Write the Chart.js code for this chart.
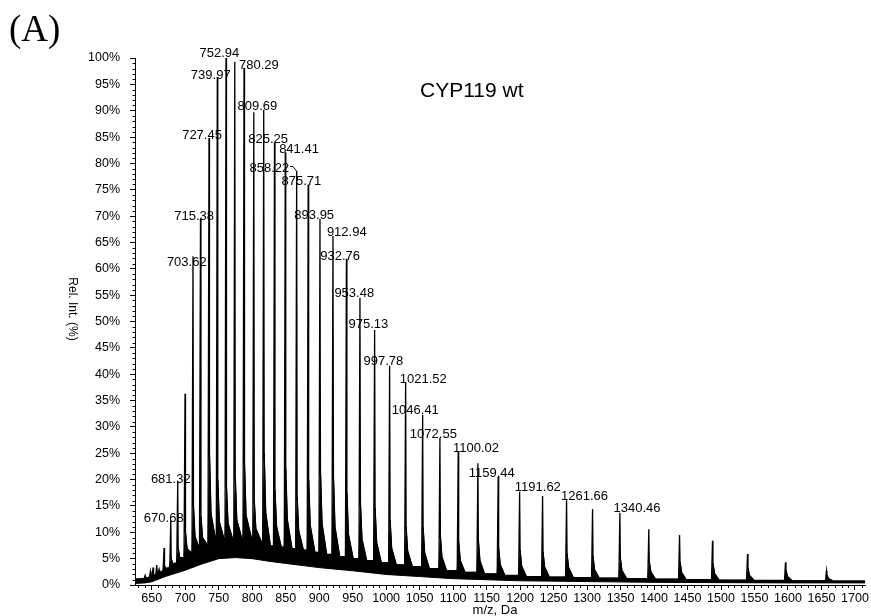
<!DOCTYPE html>
<html>
<head>
<meta charset="utf-8">
<script src="https://cdn.jsdelivr.net/npm/chart.js@4/dist/chart.umd.min.js"></script>
<style>
  html, body { margin: 0; padding: 0; background: #fff; }
  canvas { display: block; }
</style>
</head>
<body>
<canvas id="spectrum" width="871" height="616"></canvas>
<script>
// peak positions (m/z) and intensities (%)
const peakMz = [640, 648, 652, 657.5, 661, 668.4, 678.4, 688.8, 699.7, 711.6, 722.8, 735.5, 747.9, 760.9, 774.0,
  787.8, 802.4, 817.2, 833.3, 849.4, 866.4, 883.6, 901.2, 920.6, 940.7, 960.9, 982.8, 1005.2, 1029.1, 1054.5,
  1080.3, 1107.6, 1137.0, 1167.3, 1199.3, 1233.6, 1269.4, 1308.2, 1349.0, 1392.2, 1438.1, 1487.3, 1539.6, 1596.3, 1657.5];
const peakTop = [1.8, 2.6, 3.3, 3.8, 3.0, 7.0, 12.3, 19.6, 36.3, 62.4, 69.5, 84.8, 96.4, 100, 99.3,
  98.1, 89.7, 90.2, 83.9, 82.1, 78.5, 76.0, 69.5, 66.2, 61.9, 54.5, 48.4, 41.6, 38.4, 32.3,
  27.9, 25.3, 23.1, 20.6, 17.7, 16.9, 16.1, 14.4, 13.7, 10.6, 9.5, 8.4, 5.9, 4.3, 2.7];
// top of the noise band in the valley just before each peak
const peakFoot = [1.2, 1.5, 1.7, 2.0, 2.2, 2.8, 3.4, 4.2, 5.2, 6.0, 6.8, 7.4, 7.8, 8.0, 8.0,
  8.0, 7.8, 7.6, 7.4, 7.2, 6.9, 6.6, 6.2, 5.8, 5.4, 5.0, 4.6, 4.2, 3.8, 3.5,
  3.1, 2.7, 2.4, 2.1, 1.8, 1.6, 1.5, 1.4, 1.3, 1.2, 1.1, 1.0, 0.9, 0.85, 0.8];
// shoulder just right of each peak, and the decaying tail after it
const peakShoulder = [1.4, 1.8, 2.0, 2.4, 2.6, 3.6, 5.0, 7.0, 10, 15, 13, 25, 20, 18.6, 20.5,
  23, 16, 25, 18, 22, 16.7, 20, 21.8, 20.6, 17.5, 15.6, 14.6, 12.3, 11.1, 11.0,
  9.2, 8.2, 8.5, 7.0, 6.6, 6.2, 6.0, 5.4, 5.1, 4.4, 4.4, 4.1, 3.2, 2.8, 1.9];
const peakTail = [1.3, 1.6, 1.8, 2.1, 2.4, 3.1, 4.0, 5.2, 6.9, 9.2, 9.0, 13.5, 12.0, 11.7, 12.3,
  13.2, 10.7, 13.7, 11.1, 12.4, 10.3, 11.3, 11.7, 11.0, 9.6, 8.7, 8.1, 7.0, 6.4, 6.1,
  5.3, 4.7, 4.6, 3.9, 3.6, 3.4, 3.3, 2.9, 2.8, 2.5, 2.4, 2.2, 1.8, 1.6, 1.2];
const edgeMz = [625, 1715];
const edgePct = [1.1, 0.75];
// lower edge of the noise band
const floorMz = [625, 640, 650, 670, 700, 725, 750, 775, 800, 825, 850, 875, 900, 925, 950,
  1000, 1050, 1100, 1150, 1200, 1300, 1400, 1500, 1600, 1715];
const floorPct = [0.3, 0.4, 0.6, 1.6, 2.8, 4.0, 5.0, 5.2, 5.0, 4.5, 4.1, 3.7, 3.3, 3.0, 2.7,
  2.0, 1.6, 1.2, 1.0, 0.8, 0.65, 0.5, 0.45, 0.4, 0.4];

// peak annotations: text and where it sits (m/z, %)
const labelText = ['752.94', '780.29', '739.97', '809.69', '727.45', '825.25', '841.41', '858.22', '875.71',
  '715.38', '893.95', '912.94', '703.62', '932.76', '953.48', '975.13', '997.78', '1021.52', '1046.41',
  '1072.55', '1100.02', '1159.44', '1191.62', '1261.66', '1340.46', '681.32', '670.68'];
const labelMz = [750.9, 809.9, 738.1, 807.7, 725.1, 823.7, 869.9, 825.6, 873.4,
  713.2, 892.6, 941.2, 702.3, 931.2, 952.4, 973.4, 995.8, 1055.5, 1043.6,
  1070.5, 1134.2, 1157.7, 1226.5, 1296.2, 1374.6, 678.4, 667.9];
const labelPct = [100.9, 98.5, 96.6, 90.8, 85.4, 84.6, 82.7, 79.1, 76.5,
  69.9, 70.2, 66.9, 61.3, 62.4, 55.4, 49.5, 42.5, 39.1, 33.1,
  28.5, 25.9, 21.1, 18.5, 16.8, 14.6, 20.1, 12.7];
// leader from the 858.22 label to its peak
const leaderMz = [856.5, 861.0, 867.0];
const leaderPct = [79.4, 79.4, 78.4];

const profile = [{x: edgeMz[0], y: edgePct[0]}];
const band = [{x: edgeMz[0], y: edgePct[0]}];
for (let i = 0; i < peakMz.length; i++) {
  const mz = peakMz[i];
  const last = i === peakMz.length - 1;
  const nextMz = last ? edgeMz[1] : peakMz[i + 1];
  const nextFoot = last ? edgePct[1] : peakFoot[i + 1];
  const tailX = Math.min(mz + 3, nextMz - 2.5);
  profile.push({x: mz - 1.5, y: peakFoot[i]}, {x: mz, y: peakTop[i]},
    {x: mz + 0.7, y: peakShoulder[i]}, {x: tailX, y: peakTail[i]});
  band.push({x: mz - 1.5, y: peakFoot[i]}, {x: mz + 0.7, y: peakShoulder[i]}, {x: tailX, y: peakTail[i]});
  if (nextMz - mz > 16) {
    profile.push({x: mz + 10, y: nextFoot});
    band.push({x: mz + 10, y: nextFoot});
  }
}
profile.push({x: edgeMz[1], y: edgePct[1]});
band.push({x: edgeMz[1], y: edgePct[1]});
const floor = floorMz.map((m, i) => ({x: m, y: floorPct[i]}));

const SANS = '"Liberation Sans", Arial, sans-serif';

const extras = {
  id: 'extras',
  afterDatasetsDraw(chart) {
    const {ctx, scales: {x, y}} = chart;
    ctx.save();
    ctx.fillStyle = '#000';
    ctx.font = '13px ' + SANS;
    ctx.textAlign = 'center';
    ctx.textBaseline = 'middle';
    labelText.forEach((t, i) => {
      ctx.fillText(t, x.getPixelForValue(labelMz[i]), y.getPixelForValue(labelPct[i]));
    });
    ctx.strokeStyle = '#000';
    ctx.lineWidth = 1;
    ctx.beginPath();
    leaderMz.forEach((m, i) => {
      const px = x.getPixelForValue(m), py = y.getPixelForValue(leaderPct[i]);
      if (i === 0) ctx.moveTo(px, py); else ctx.lineTo(px, py);
    });
    ctx.stroke();
    ctx.restore();
  },
  afterDraw(chart) {
    const {ctx, chartArea: a, scales: {x, y}} = chart;
    ctx.save();
    // minor ticks
    ctx.strokeStyle = '#000';
    ctx.lineWidth = 1;
    ctx.beginPath();
    for (let v = 0; v <= 100; v += 1) {
      if (v % 5 === 0) continue;
      const py = Math.round(y.getPixelForValue(v)) + 0.5;
      ctx.moveTo(a.left, py);
      ctx.lineTo(a.left - 2.5, py);
    }
    for (let m = 630; m <= 1710; m += 10) {
      if (m % 50 === 0) continue;
      const px = Math.round(x.getPixelForValue(m)) + 0.5;
      ctx.moveTo(px, a.bottom);
      ctx.lineTo(px, a.bottom + 3);
    }
    ctx.stroke();

    ctx.fillStyle = '#000';
    ctx.textAlign = 'left';
    ctx.textBaseline = 'alphabetic';
    ctx.font = '37px "Liberation Serif", "Times New Roman", serif';
    ctx.fillText('(A)', 9, 40.5);

    ctx.font = '21px ' + SANS;
    ctx.fillText('CYP119 wt', 420, 97);

    ctx.font = '13px ' + SANS;
    ctx.textAlign = 'center';
    ctx.fillText('m/z, Da', 495, 614);

    ctx.translate(69, 309);
    ctx.rotate(Math.PI / 2);
    ctx.font = '12px ' + SANS;
    ctx.fillText('Rel. Int. (%)', 0, 0);
    ctx.restore();
  }
};

new Chart(document.getElementById('spectrum').getContext('2d'), {
  type: 'line',
  data: {
    datasets: [
      {
        label: 'CYP119 wt',
        data: profile,
        borderColor: '#000',
        borderWidth: 1.3,
        pointRadius: 0,
        fill: false,
        tension: 0
      },
      {
        label: 'noise band',
        data: band,
        borderColor: '#000',
        backgroundColor: '#000',
        borderWidth: 1,
        pointRadius: 0,
        fill: '+1',
        tension: 0
      },
      {
        label: 'floor',
        data: floor,
        borderColor: '#000',
        borderWidth: 1,
        pointRadius: 0,
        fill: false,
        tension: 0
      }
    ]
  },
  options: {
    responsive: false,
    devicePixelRatio: 1,
    animation: false,
    layout: {padding: {top: 58, right: 6, left: 0, bottom: 0}},
    plugins: {
      legend: {display: false},
      tooltip: {enabled: false},
      title: {display: false}
    },
    scales: {
      x: {
        type: 'linear',
        min: 625,
        max: 1715,
        afterFit: s => { s.height = 31; },
        border: {display: true, color: '#000', width: 1},
        grid: {drawOnChartArea: false, drawTicks: true, tickLength: 5, color: '#000'},
        ticks: {
          stepSize: 50,
          includeBounds: false,
          autoSkip: false,
          maxRotation: 0,
          padding: 1,
          color: '#000',
          font: {family: SANS, size: 12.5},
          callback: v => String(v)
        }
      },
      y: {
        min: 0,
        max: 100,
        afterFit: s => { s.width = 135; },
        border: {display: true, color: '#000', width: 1},
        grid: {drawOnChartArea: false, drawTicks: true, tickLength: 5, color: '#000'},
        ticks: {
          stepSize: 5,
          padding: 10,
          color: '#000',
          font: {family: SANS, size: 12.5},
          callback: v => v + '%'
        }
      }
    }
  },
  plugins: [extras]
});
</script>
</body>
</html>
